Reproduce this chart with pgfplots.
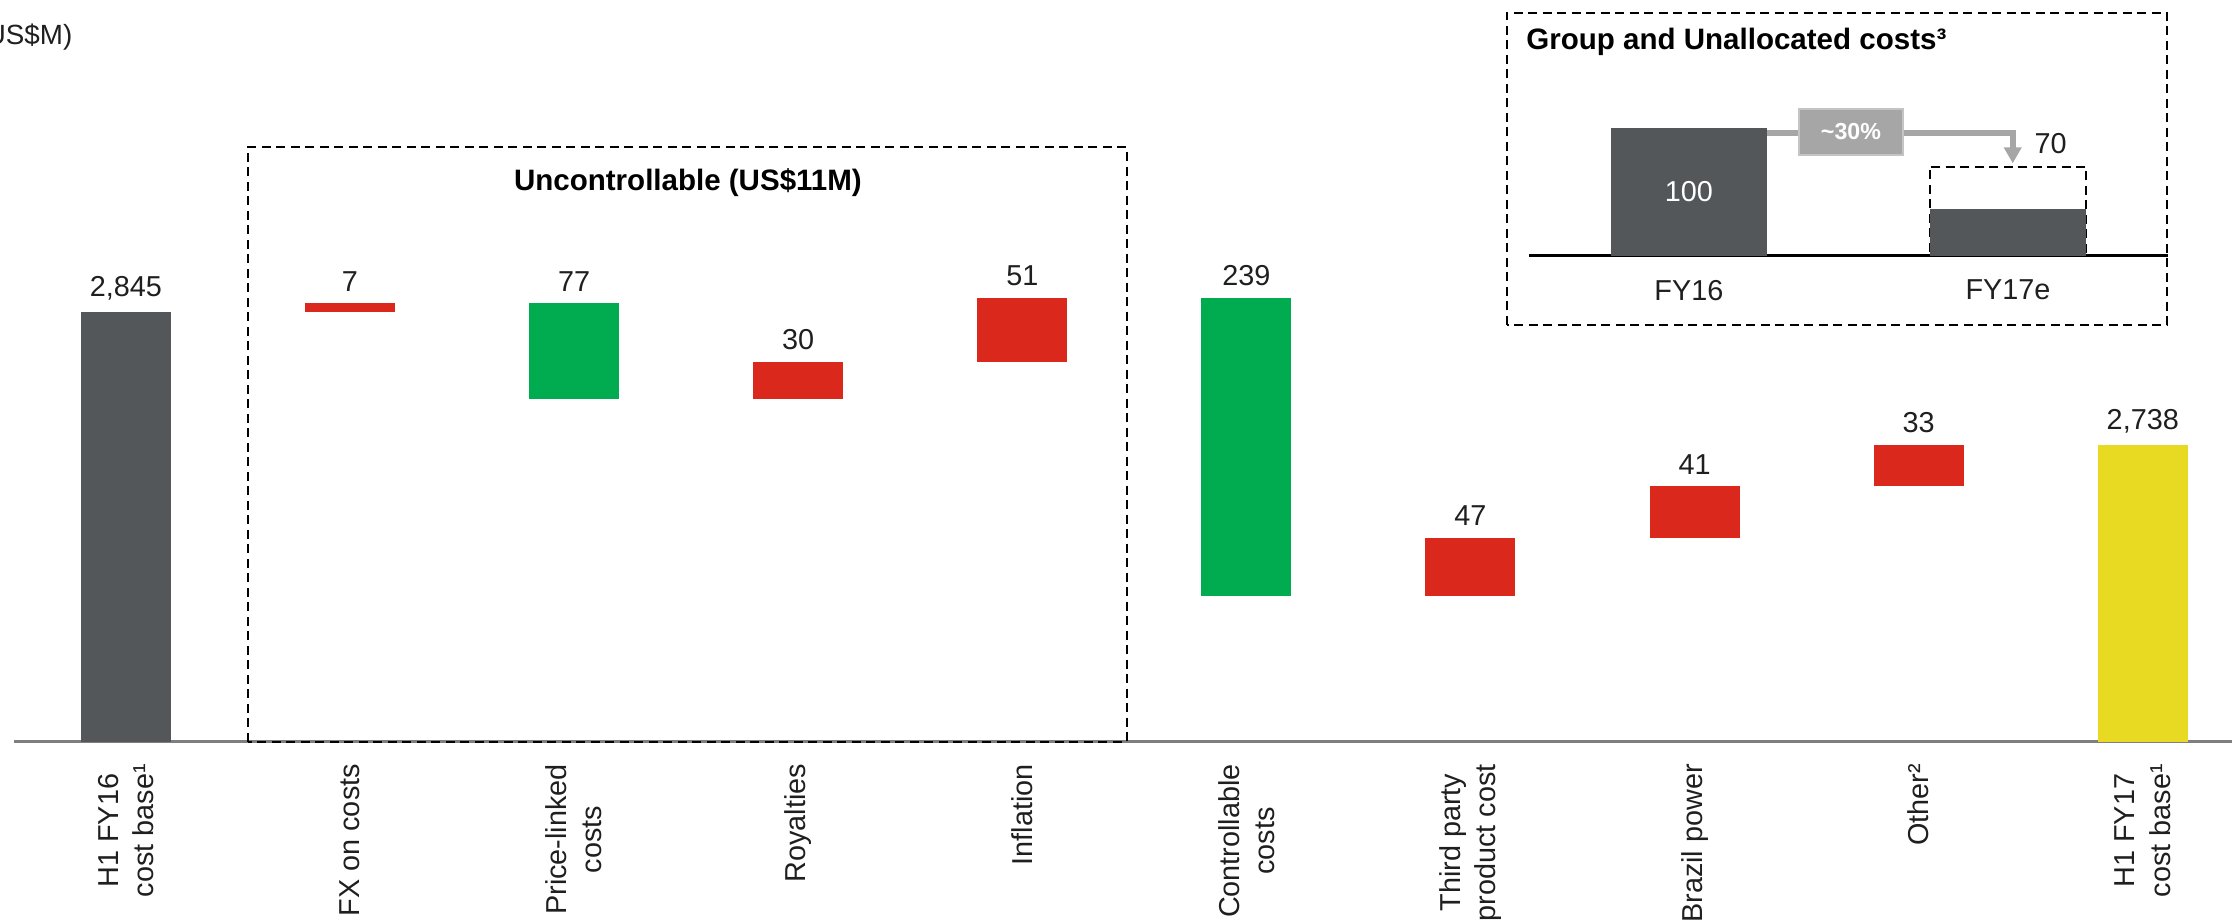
\documentclass[border=0pt]{standalone}
\usepackage{fontspec}
\setmainfont{Liberation Sans}
\usepackage{pgfplots}
\pgfplotsset{compat=1.18}
\usepackage{pgfplotstable}
\usetikzlibrary{arrows.meta}

\definecolor{cGray}{HTML}{54575A}
\definecolor{cGreen}{HTML}{00AC4F}
\definecolor{cRed}{HTML}{DA291C}
\definecolor{cYellow}{HTML}{E8DA22}
\definecolor{cArrow}{HTML}{A6A6A6}
\definecolor{cArrowEdge}{HTML}{C4C4C4}
\definecolor{cBase}{HTML}{7F7F7F}
\definecolor{cText}{HTML}{1F1F1F}

\newcommand{\lbl}{\fontsize{8.2}{10}\selectfont}
\newcommand{\ttl}{\bfseries\fontsize{8.4}{10}\selectfont}

% Cost bridge, H1 FY16 to H1 FY17 (US$M)
\pgfplotstableread{
x y    lab
0 2845 2,845
}\opening
\pgfplotstableread{
x y    lab
9 2738 2,738
}\closing
% cost increases: bar runs from low to low+d
\pgfplotstableread{
x low  d
1 2845 7
3 2775 30
4 2805 51
6 2617 47
7 2664 41
8 2705 33
}\increases
% cost savings: bar runs from low (new level) up to low+d (previous level)
\pgfplotstableread{
x low  d
2 2775 77
5 2617 239
}\decreases

\tikzset{boxdash/.style={draw=black, line width=0.2mm, dash pattern=on 0.9mm off 0.55mm}}

\begin{document}
\begin{tikzpicture}
\path[use as bounding box] (0,0) rectangle (223.3mm,92mm);

% unit label
\node[anchor=base east, inner sep=0pt, font=\fontsize{7.9}{10}\selectfont, text=cText] at (7.3mm,87.5mm) {(US\$M)};

% ---------------- main bridge ----------------
\begin{axis}[
  at={(1.385mm,17.83mm)}, anchor=south west, scale only axis,
  width=221.86mm, height=62.25mm,
  xmin=-0.5, xmax=9.4, ymin=2500, ymax=3000,
  axis x line*=bottom, axis y line=none,
  x axis line style={draw=cBase, line width=0.3mm, -},
  xtick={0,...,9},
  xticklabels={{H1 FY16\\cost base¹}, {FX on costs}, {Price-linked\\costs}, {Royalties}, {Inflation},
               {Controllable\\costs}, {Third party\\product cost}, {Brazil power}, {Other²}, {H1 FY17\\cost base¹}},
  xticklabel style={yshift=-1mm, rotate=90, anchor=east, align=center, font=\lbl, text=cText},
  major tick length=0pt, xtick style={draw=none},
  ytick=\empty,
  clip mode=individual,
  every node near coord/.append style={font=\lbl, text=cText},
]
  % opening and closing cost base
  \addplot[ybar, bar width=9mm, bar shift=0pt, fill=cGray, draw=none,
    nodes near coords, point meta=explicit symbolic]
    table[x=x, y=y, meta=lab] {\opening};
  \addplot[ybar, bar width=9mm, bar shift=0pt, fill=cYellow, draw=none,
    nodes near coords, point meta=explicit symbolic]
    table[x=x, y=y, meta=lab] {\closing};

  % floating bars
  \addplot[draw=none, mark=none,
    error bars/.cd, y dir=plus, y explicit, error mark=none,
    error bar style={draw=cRed, line width=9mm}]
    table[x=x, y=low, y error=d] {\increases};
  \addplot[draw=none, mark=none,
    error bars/.cd, y dir=plus, y explicit, error mark=none,
    error bar style={draw=cGreen, line width=9mm}]
    table[x=x, y=low, y error=d] {\decreases};

  % value labels on top of the floating bars
  \addplot[draw=none, mark=none, nodes near coords, point meta=explicit symbolic,
    every node near coord/.append style={anchor=south}]
    table[x=x, y expr=\thisrow{low}+\thisrow{d}, meta=d] {\increases};
  \addplot[draw=none, mark=none, nodes near coords, point meta=explicit symbolic,
    every node near coord/.append style={anchor=south}]
    table[x=x, y expr=\thisrow{low}+\thisrow{d}, meta=d] {\decreases};

  % uncontrollable group
  \draw[boxdash] (axis cs:0.544,2500) rectangle (axis cs:4.465,2977.9);
  \node[font=\ttl, text=black] at (axis cs:2.508,2948.8) {Uncontrollable (US\$11M)};
\end{axis}

% ---------------- inset: group and unallocated costs ----------------
\draw[boxdash] (150.7mm,59.5mm) rectangle (216.7mm,90.73mm);
\node[anchor=base west, inner sep=0pt, font=\ttl, text=black] at (152.57mm,87.0mm) {Group and Unallocated costs³};

\begin{axis}[
  at={(152.93mm,66.43mm)}, anchor=south west, scale only axis,
  width=63.82mm, height=12.74mm,
  xmin=-0.5, xmax=1.5, ymin=0, ymax=100,
  axis x line*=bottom, axis y line=none,
  x axis line style={draw=black, line width=0.3mm, -},
  xtick={0,1}, xticklabels={FY16,FY17e},
  xticklabel style={yshift=-1.2mm, font=\lbl, text=cText},
  major tick length=0pt, xtick style={draw=none},
  ytick=\empty, clip=false,
]
  \addplot[ybar, bar width=15.65mm, bar shift=0pt, fill=cGray, draw=none] coordinates {(0,100)};
  \addplot[ybar, bar width=15.65mm, bar shift=0pt, fill=none, boxdash] coordinates {(1,70)};
  \addplot[ybar, bar width=15.65mm, bar shift=0pt, fill=cGray, draw=none] coordinates {(1,37)};

  \node[font=\lbl, text=white] at (axis cs:0,50) {100};
  \node[anchor=south, xshift=4.27mm, font=\lbl, text=cText] at (axis cs:1,70) {70};

  \draw[cArrow, line width=0.6mm, -{Triangle[width=1.7mm,length=1.6mm]}]
    ([xshift=7.82mm]axis cs:0,96) -| (axis cs:1.015,72.5);
  \node[fill=cArrow, draw=cArrowEdge, line width=0.15mm, text=white,
    font=\bfseries\fontsize{6.6}{8}\selectfont,
    minimum width=10.4mm, minimum height=4.6mm, inner sep=0pt]
    at (axis cs:0.508,97.1) {\textasciitilde30\%};
\end{axis}
\end{tikzpicture}
\end{document}
